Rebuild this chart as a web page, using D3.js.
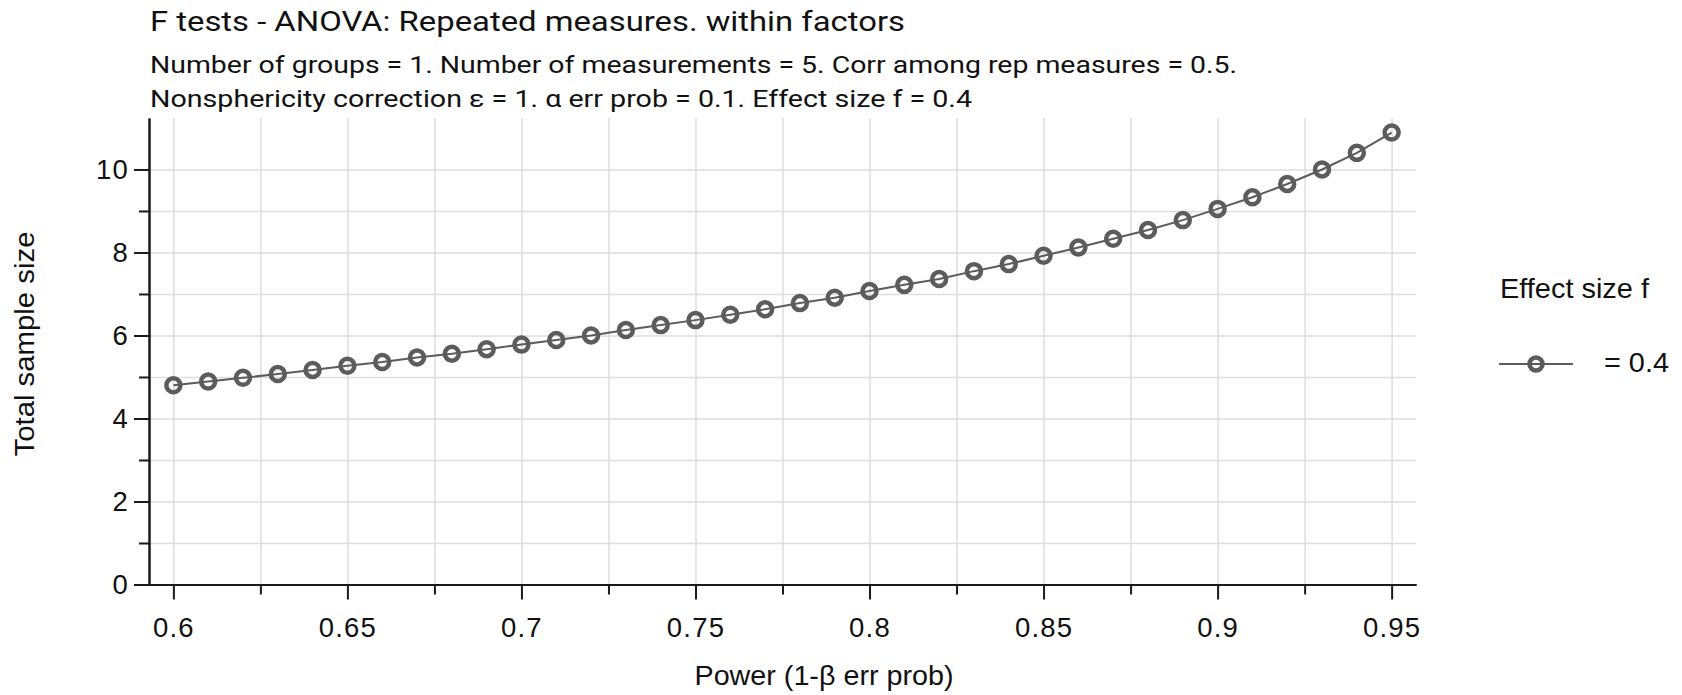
<!DOCTYPE html>
<html>
<head>
<meta charset="utf-8">
<script src="https://cdn.jsdelivr.net/npm/d3@7"></script>
<style>
    body { margin: 0; background: #fff; }
    .grid line { stroke: #dddddd; stroke-width: 1.5; }
    .grid path { display: none; }
    .axis path, .axis line { stroke: #1a1a1a; stroke-width: 2; }
    .axis text { font-family: "Liberation Sans", Arial, sans-serif; font-size: 27.5px; letter-spacing: 1.2px; fill: #111; }
</style>
</head>
<body>
<svg id="chart" width="1682" height="695"></svg>
<script>
// power (1 - beta err prob) on the x axis
const power = [0.60, 0.61, 0.62, 0.63, 0.64, 0.65, 0.66, 0.67, 0.68, 0.69,
	       0.70, 0.71, 0.72, 0.73, 0.74, 0.75, 0.76, 0.77, 0.78, 0.79,
	       0.80, 0.81, 0.82, 0.83, 0.84, 0.85, 0.86, 0.87, 0.88, 0.89,
	       0.90, 0.91, 0.92, 0.93, 0.94, 0.95];
// total sample size, effect size f = 0.4
const sampleSize = [4.80, 4.89, 4.98, 5.07, 5.17, 5.27, 5.36, 5.47, 5.56, 5.67,
		    5.78, 5.89, 6.00, 6.13, 6.25, 6.37, 6.50, 6.63, 6.78, 6.91,
		    7.07, 7.22, 7.36, 7.55, 7.72, 7.92, 8.12, 8.33, 8.54, 8.78,
		    9.05, 9.33, 9.65, 10.00, 10.40, 10.89];

const xMajorTicks = [0.6, 0.65, 0.7, 0.75, 0.8, 0.85, 0.9, 0.95];
const xMinorTicks = [0.625, 0.675, 0.725, 0.775, 0.825, 0.875, 0.925];
const yMajorTicks = [0, 2, 4, 6, 8, 10];
const yMinorTicks = [1, 3, 5, 7, 9];

const titleText = "F tests - ANOVA: Repeated measures. within factors";
const subtitleLines = [
    "Number of groups = 1. Number of measurements = 5. Corr among rep measures = 0.5.",
    "Nonsphericity correction \u03b5 = 1. \u03b1 err prob = 0.1. Effect size f = 0.4"
];
const xLabel = "Power (1-\u03b2 err prob)";
const yLabel = "Total sample size";
const legendTitle = "Effect size f";
const legendLabel = "= 0.4";

const lineColor = "#5c5c5c";
const labelFont = "'Liberation Sans', Arial, sans-serif";

let svg = d3.select("#chart");

let x = d3.scaleLinear()
    .domain([0.593, 0.957])
    .range([149, 1416]);

let y = d3.scaleLinear()
    .domain([0, 11.24])
    .range([584.5, 118]);

// grid lines
svg.append("g")
    .attr("class", "grid")
    .attr("transform", "translate(0," + y(0) + ")")
    .call(d3.axisBottom(x)
	  .tickValues(xMajorTicks.concat(xMinorTicks))
	  .tickSize(-(y(0) - y.range()[1]))
	  .tickFormat(""));

svg.append("g")
    .attr("class", "grid")
    .attr("transform", "translate(" + x.range()[0] + ",0)")
    .call(d3.axisLeft(y)
	  .tickValues(yMajorTicks.concat(yMinorTicks))
	  .tickSize(-(x.range()[1] - x.range()[0]))
	  .tickFormat(""));

// x axis - major ticks carry labels, minor ticks are shorter
svg.append("g")
    .attr("class", "axis")
    .attr("transform", "translate(0," + y(0) + ")")
    .call(d3.axisBottom(x)
	  .tickValues(xMinorTicks)
	  .tickSizeInner(10)
	  .tickSizeOuter(0)
	  .tickFormat(""));

svg.append("g")
    .attr("class", "axis")
    .attr("transform", "translate(0," + y(0) + ")")
    .call(d3.axisBottom(x)
	  .tickValues(xMajorTicks)
	  .tickSizeInner(15)
	  .tickSizeOuter(0)
	  .tickPadding(18)
	  .tickFormat(d3.format("")));

// y axis
svg.append("g")
    .attr("class", "axis")
    .attr("transform", "translate(" + x.range()[0] + ",0)")
    .call(d3.axisLeft(y)
	  .tickValues(yMinorTicks)
	  .tickSizeInner(10)
	  .tickSizeOuter(0)
	  .tickFormat(""));

svg.append("g")
    .attr("class", "axis")
    .attr("transform", "translate(" + x.range()[0] + ",0)")
    .call(d3.axisLeft(y)
	  .tickValues(yMajorTicks)
	  .tickSizeInner(15)
	  .tickSizeOuter(0)
	  .tickPadding(5)
	  .tickFormat(d3.format("d")));

// series
let data = power.map(function(p, i) { return { power: p, n: sampleSize[i] }; });

svg.append("path")
    .datum(data)
    .attr("fill", "none")
    .attr("stroke", lineColor)
    .attr("stroke-width", 2)
    .attr("d", d3.line()
	  .x(function(d) { return x(d.power) })
	  .y(function(d) { return y(d.n) }));

svg.append("g")
    .selectAll("circle")
    .data(data)
    .join("circle")
    .attr("cx", function(d) { return x(d.power) })
    .attr("cy", function(d) { return y(d.n) })
    .attr("r", 7)
    .attr("fill", "none")
    .attr("stroke", lineColor)
    .attr("stroke-width", 4.5);

// titles
svg.append("text")
    .attr("x", 150)
    .attr("y", 31)
    .attr("textLength", 755)
    .attr("lengthAdjust", "spacingAndGlyphs")
    .style("font-family", "Roboto, 'Liberation Sans', sans-serif")
    .style("font-size", "28px")
    .style("fill", "#111")
    .text(titleText);

const subY = [73, 107];
const subLen = [1087, 822];
subtitleLines.forEach(function(t, i) {
    svg.append("text")
	.attr("x", 150)
	.attr("y", subY[i])
	.attr("textLength", subLen[i])
	.attr("lengthAdjust", "spacingAndGlyphs")
	.style("font-family", "Roboto, 'Liberation Sans', sans-serif")
	.style("font-size", "23px")
	.style("fill", "#111")
	.text(t);
});

// axis labels
svg.append("text")
    .attr("x", 824)
    .attr("y", 685)
    .attr("text-anchor", "middle")
    .attr("textLength", 259)
    .attr("lengthAdjust", "spacingAndGlyphs")
    .style("font-family", labelFont)
    .style("font-size", "27.5px")
    .style("fill", "#111")
    .text(xLabel);

svg.append("text")
    .attr("transform", "translate(34,344) rotate(-90)")
    .attr("text-anchor", "middle")
    .attr("textLength", 225)
    .attr("lengthAdjust", "spacingAndGlyphs")
    .style("font-family", labelFont)
    .style("font-size", "27.5px")
    .style("fill", "#111")
    .text(yLabel);

// legend
let legend = svg.append("g");

legend.append("text")
    .attr("x", 1500)
    .attr("y", 298)
    .attr("textLength", 149)
    .attr("lengthAdjust", "spacingAndGlyphs")
    .style("font-family", labelFont)
    .style("font-size", "28px")
    .style("fill", "#111")
    .text(legendTitle);

legend.append("line")
    .attr("x1", 1499).attr("x2", 1573)
    .attr("y1", 364).attr("y2", 364)
    .attr("stroke", lineColor)
    .attr("stroke-width", 2);

legend.append("circle")
    .attr("cx", 1536)
    .attr("cy", 364)
    .attr("r", 6.5)
    .attr("fill", "none")
    .attr("stroke", lineColor)
    .attr("stroke-width", 4.5);

legend.append("text")
    .attr("x", 1604)
    .attr("y", 372)
    .attr("textLength", 65)
    .attr("lengthAdjust", "spacingAndGlyphs")
    .style("font-family", labelFont)
    .style("font-size", "28px")
    .style("fill", "#111")
    .text(legendLabel);
</script>
</body>
</html>
